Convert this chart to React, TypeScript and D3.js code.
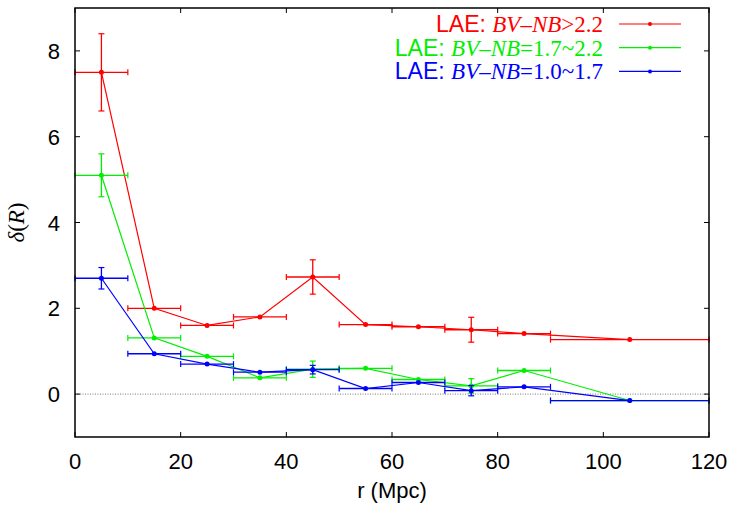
import React, { useEffect, useRef } from 'react';
import * as d3 from 'd3';

// bin centres (Mpc) and half-widths
const rCenters = [5, 15, 25, 35, 45, 55, 65, 75, 85, 105];
const rHalfWidth = [5, 5, 5, 5, 5, 5, 5, 5, 5, 15];

const redVals = [7.5, 2.0, 1.6, 1.8, 2.73, 1.62, 1.57, 1.5, 1.41, 1.27];
const redErr = [0.9, 0, 0, 0, 0.4, 0, 0, 0.29, 0, 0];

const greenVals = [5.1, 1.31, 0.88, 0.38, 0.58, 0.6, 0.34, 0.19, 0.55, -0.15];
const greenErr = [0.5, 0, 0, 0, 0.19, 0, 0, 0.17, 0, 0];

const blueVals = [2.7, 0.94, 0.7, 0.51, 0.57, 0.13, 0.27, 0.08, 0.17, -0.15];
const blueErr = [0.25, 0, 0, 0, 0.1, 0, 0, 0.12, 0, 0];

const xTicks = [0, 20, 40, 60, 80, 100, 120];
const yTicks = [0, 2, 4, 6, 8];

const series = [
  { name: '>2.2', color: '#ff0000', vals: redVals, err: redErr },
  { name: '=1.7~2.2', color: '#00ee00', vals: greenVals, err: greenErr },
  { name: '=1.0~1.7', color: '#0000ff', vals: blueVals, err: blueErr },
];

const SANS = 'Liberation Sans, Arial, sans-serif';
const SERIF = 'Liberation Serif, Times New Roman, serif';

const App = () => {
  const svgRef = useRef<SVGSVGElement>(null);

  useEffect(() => {
    const W = 735;
    const H = 510;
    const margin = { top: 8, right: 26, bottom: 73, left: 75 };
    const width = W - margin.left - margin.right;
    const height = H - margin.top - margin.bottom;

    const root = d3.select(svgRef.current);
    root.selectAll('*').remove();
    const svg = root.append('g').attr('transform', `translate(${margin.left},${margin.top})`);

    const x = d3.scaleLinear().domain([0, 120]).range([0, width]);
    const y = d3.scaleLinear().domain([-1, 9]).range([height, 0]);

    // zero line
    svg.append('line')
      .attr('x1', 0).attr('x2', width)
      .attr('y1', y(0)).attr('y2', y(0))
      .attr('stroke', '#777').attr('stroke-width', 1)
      .attr('stroke-dasharray', '1,1.5');

    // ticks (inward, mirrored)
    const tickLen = 5;
    xTicks.forEach(t => {
      svg.append('line').attr('x1', x(t)).attr('x2', x(t)).attr('y1', height).attr('y2', height - tickLen)
        .attr('stroke', '#000');
      svg.append('line').attr('x1', x(t)).attr('x2', x(t)).attr('y1', 0).attr('y2', tickLen)
        .attr('stroke', '#000');
      svg.append('text')
        .attr('x', x(t)).attr('y', height + 32)
        .attr('text-anchor', 'middle')
        .style('font-family', SANS)
        .style('font-size', '22px')
        .text(t);
    });
    yTicks.forEach(t => {
      svg.append('line').attr('x1', 0).attr('x2', tickLen).attr('y1', y(t)).attr('y2', y(t))
        .attr('stroke', '#000');
      svg.append('line').attr('x1', width).attr('x2', width - tickLen).attr('y1', y(t)).attr('y2', y(t))
        .attr('stroke', '#000');
      svg.append('text')
        .attr('x', -15).attr('y', y(t) + 8)
        .attr('text-anchor', 'end')
        .style('font-family', SANS)
        .style('font-size', '22px')
        .text(t);
    });

    // series
    const capX = 3;
    const capY = 3;
    series.forEach(s => {
      const g = svg.append('g').attr('stroke', s.color).attr('fill', s.color);
      const pts: [number, number][] = rCenters.map((r, i) => [r, s.vals[i]]);
      g.append('path')
        .datum(pts)
        .attr('fill', 'none')
        .attr('stroke-width', 1.2)
        .attr('d', d3.line<[number, number]>().x(d => x(d[0])).y(d => y(d[1])));

      rCenters.forEach((r, i) => {
        const cx = x(r);
        const cy = y(s.vals[i]);
        const x0 = x(r - rHalfWidth[i]);
        const x1 = x(r + rHalfWidth[i]);
        g.append('line').attr('x1', x0).attr('x2', x1).attr('y1', cy).attr('y2', cy).attr('stroke-width', 1.3);
        g.append('line').attr('x1', x0).attr('x2', x0).attr('y1', cy - capX).attr('y2', cy + capX).attr('stroke-width', 1.2);
        g.append('line').attr('x1', x1).attr('x2', x1).attr('y1', cy - capX).attr('y2', cy + capX).attr('stroke-width', 1.2);
        if (s.err[i] > 0) {
          const y0 = y(s.vals[i] - s.err[i]);
          const y1 = y(s.vals[i] + s.err[i]);
          g.append('line').attr('x1', cx).attr('x2', cx).attr('y1', y0).attr('y2', y1).attr('stroke-width', 1.3);
          g.append('line').attr('x1', cx - capY).attr('x2', cx + capY).attr('y1', y0).attr('y2', y0).attr('stroke-width', 1.2);
          g.append('line').attr('x1', cx - capY).attr('x2', cx + capY).attr('y1', y1).attr('y2', y1).attr('stroke-width', 1.2);
        }
        g.append('circle').attr('cx', cx).attr('cy', cy).attr('r', 2.5).attr('stroke', 'none');
      });
    });

    // frame
    svg.append('rect')
      .attr('x', 0).attr('y', 0).attr('width', width).attr('height', height)
      .attr('fill', 'none').attr('stroke', '#000').attr('stroke-width', 1.5);

    // legend
    series.forEach((s, i) => {
      const ly = 16 + i * 23.7;
      const t = svg.append('text')
        .attr('x', 528).attr('y', ly + 8)
        .attr('text-anchor', 'end')
        .attr('fill', s.color)
        .style('font-size', '23px');
      t.append('tspan').style('font-family', SANS).text('LAE: ');
      t.append('tspan').style('font-family', SERIF).style('font-style', 'italic').text('BV');
      t.append('tspan').style('font-family', SERIF).text('\u2013');
      t.append('tspan').style('font-family', SERIF).style('font-style', 'italic').text('NB');
      t.append('tspan').style('font-family', SERIF).text(s.name);
      svg.append('line').attr('x1', 544).attr('x2', 606).attr('y1', ly).attr('y2', ly)
        .attr('stroke', s.color).attr('stroke-width', 1.2);
      svg.append('circle').attr('cx', 575).attr('cy', ly).attr('r', 2).attr('fill', s.color);
    });

    // axis labels
    svg.append('text')
      .attr('x', width / 2).attr('y', height + 61)
      .attr('text-anchor', 'middle')
      .style('font-family', SANS)
      .style('font-size', '22px')
      .text('r (Mpc)');

    const yl = svg.append('text')
      .attr('transform', `translate(${-51},${y(4)}) rotate(-90)`)
      .attr('text-anchor', 'middle')
      .style('font-family', SERIF)
      .style('font-size', '23px');
    yl.append('tspan').style('font-style', 'italic').text('\u03b4');
    yl.append('tspan').text('(');
    yl.append('tspan').style('font-style', 'italic').text('R');
    yl.append('tspan').text(')');
  }, []);

  return (
    <svg ref={svgRef} width={735} height={510} style={{ position: 'absolute', left: 0, top: 0, background: '#fff' }} />
  );
};

export default App;
